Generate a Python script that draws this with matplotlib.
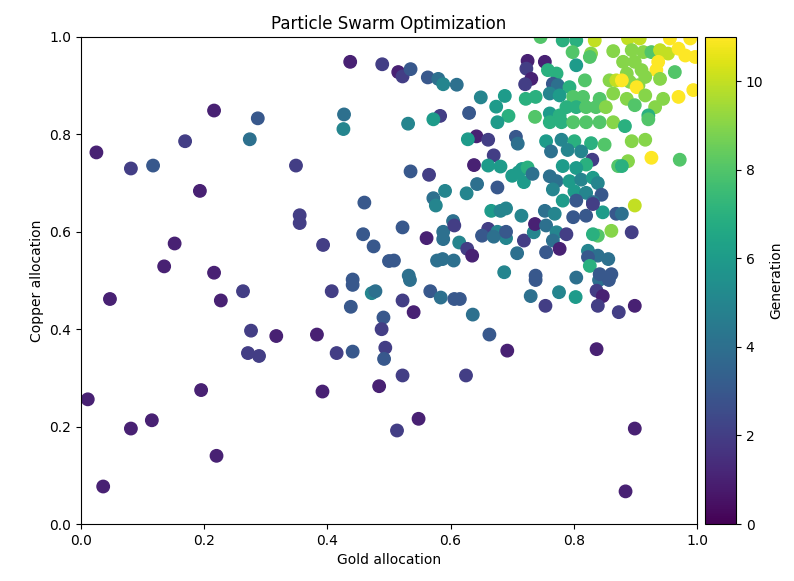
import numpy as np
import matplotlib
matplotlib.use("Agg")
import matplotlib.pyplot as plt

# positions of the particles (gold, copper, generation)
gold = [
    # left half, upper
    0.437, 0.489, 0.216, 0.287, 0.427, 0.426, 0.274, 0.169, 0.025, 0.081, 0.117, 0.349,
    0.193, 0.460, 0.355, 0.355, 0.458, 0.475, 0.393, 0.152, 0.135, 0.216, 0.500, 0.441,
    # left half, lower
    0.047, 0.227, 0.263, 0.407, 0.441, 0.472, 0.478, 0.438, 0.491, 0.488, 0.276, 0.317,
    0.383, 0.271, 0.289, 0.415, 0.441, 0.494, 0.492, 0.195, 0.392, 0.484, 0.011, 0.115,
    0.081, 0.220, 0.036,
    # right half, lower
    0.534, 0.738, 0.841, 0.857, 0.567, 0.584, 0.606, 0.615, 0.522, 0.540, 0.636, 0.730,
    0.776, 0.803, 0.754, 0.837, 0.847, 0.839, 0.873, 0.899, 0.663, 0.692, 0.837, 0.522,
    0.625, 0.548, 0.513, 0.899, 0.884,
    # middle, upper
    0.515, 0.522, 0.535, 0.563, 0.580, 0.588, 0.610, 0.649, 0.688, 0.674, 0.694, 0.676,
    0.630, 0.583, 0.572, 0.531, 0.642, 0.661, 0.628, 0.670, 0.706, 0.709, 0.725, 0.723,
    0.731, 0.721, 0.722, 0.738, 0.737, 0.746,
    # middle, centre
    0.535, 0.565, 0.638, 0.661, 0.681, 0.643, 0.626, 0.591, 0.572, 0.576, 0.676, 0.666,
    0.681, 0.690, 0.715, 0.522, 0.561, 0.588, 0.588, 0.604, 0.606, 0.614, 0.627, 0.635,
    0.661, 0.651, 0.676, 0.690, 0.670, 0.690, 0.708, 0.719, 0.735, 0.737, 0.508, 0.532,
    0.578, 0.587, 0.605, 0.687, 0.738, 0.710, 0.716, 0.725, 0.719, 0.700, 0.733,
    # dense cluster
    0.782, 0.804, 0.834, 0.798, 0.828, 0.864, 0.804, 0.826, 0.753, 0.758, 0.772, 0.818,
    0.858, 0.869, 0.766, 0.774, 0.793, 0.761, 0.777, 0.799, 0.815, 0.842, 0.864, 0.788,
    0.804, 0.820, 0.836, 0.852, 0.761, 0.777,
    0.761, 0.780, 0.799, 0.820, 0.842, 0.864, 0.755, 0.780, 0.801, 0.828, 0.850, 0.763,
    0.790, 0.812, 0.830, 0.820, 0.872, 0.782, 0.804, 0.761, 0.772, 0.793, 0.812, 0.831,
    0.839, 0.801, 0.820, 0.845, 0.766,
    0.782, 0.804, 0.831, 0.753, 0.769, 0.799, 0.820, 0.847, 0.869, 0.831, 0.861, 0.839,
    0.831, 0.755, 0.772, 0.788, 0.766, 0.777, 0.823, 0.839, 0.856, 0.823, 0.826, 0.755,
    0.842, 0.861, 0.804,
    # top right corner
    0.888, 0.907, 0.956, 0.989, 0.894, 0.913, 0.926, 0.940, 0.953, 0.970, 0.981, 0.997,
    0.937, 0.880, 0.899, 0.910, 0.934, 0.964, 0.886, 0.891, 0.878, 0.905, 0.916, 0.940,
    0.902, 0.994, 0.916, 0.886, 0.899, 0.932, 0.945, 0.970, 0.921,
    0.883, 0.921, 0.894, 0.916, 0.926, 0.888, 0.878, 0.972,
    0.899, 0.878, 0.894,
]
copper = [
    0.949, 0.944, 0.849, 0.833, 0.841, 0.811, 0.790, 0.786, 0.763, 0.730, 0.736, 0.736,
    0.684, 0.660, 0.634, 0.618, 0.595, 0.570, 0.573, 0.576, 0.529, 0.516, 0.540, 0.502,
    0.462, 0.459, 0.478, 0.478, 0.491, 0.474, 0.478, 0.446, 0.424, 0.400, 0.397, 0.386,
    0.389, 0.351, 0.345, 0.351, 0.354, 0.362, 0.339, 0.275, 0.272, 0.283, 0.256, 0.213,
    0.196, 0.140, 0.077,
    0.501, 0.501, 0.501, 0.501, 0.478, 0.465, 0.462, 0.462, 0.459, 0.435, 0.430, 0.468,
    0.476, 0.466, 0.448, 0.479, 0.468, 0.448, 0.435, 0.448, 0.389, 0.356, 0.359, 0.305,
    0.305, 0.216, 0.192, 0.196, 0.067,
    0.928, 0.919, 0.934, 0.917, 0.914, 0.903, 0.902, 0.876, 0.879, 0.857, 0.838, 0.825,
    0.844, 0.838, 0.831, 0.822, 0.796, 0.789, 0.790, 0.757, 0.795, 0.781, 0.951, 0.935,
    0.914, 0.903, 0.873, 0.877, 0.836, 1.000,
    0.724, 0.717, 0.737, 0.736, 0.734, 0.698, 0.679, 0.684, 0.669, 0.654, 0.691, 0.643,
    0.643, 0.648, 0.633, 0.609, 0.587, 0.600, 0.585, 0.622, 0.613, 0.578, 0.565, 0.551,
    0.606, 0.592, 0.600, 0.587, 0.590, 0.600, 0.556, 0.582, 0.599, 0.616, 0.541, 0.510,
    0.541, 0.544, 0.541, 0.517, 0.510, 0.722, 0.729, 0.732, 0.702, 0.715, 0.719,
    0.993, 0.993, 0.993, 0.969, 0.966, 0.971, 0.942, 0.959, 0.949, 0.932, 0.925, 0.911,
    0.911, 0.911, 0.904, 0.901, 0.897, 0.884, 0.880, 0.877, 0.877, 0.873, 0.884, 0.856,
    0.856, 0.856, 0.856, 0.856, 0.843, 0.839,
    0.825, 0.825, 0.825, 0.825, 0.825, 0.825, 0.786, 0.789, 0.786, 0.782, 0.779, 0.765,
    0.768, 0.765, 0.748, 0.738, 0.735, 0.735, 0.731, 0.714, 0.704, 0.704, 0.707, 0.711,
    0.700, 0.683, 0.680, 0.676, 0.687,
    0.664, 0.664, 0.661, 0.643, 0.637, 0.630, 0.633, 0.640, 0.637, 0.657, 0.602, 0.592,
    0.595, 0.613, 0.599, 0.595, 0.582, 0.565, 0.561, 0.551, 0.544, 0.548, 0.530, 0.558,
    0.513, 0.513, 0.506,
    0.997, 0.997, 0.997, 0.997, 0.973, 0.969, 0.969, 0.973, 0.966, 0.976, 0.962, 0.959,
    0.949, 0.949, 0.949, 0.932, 0.932, 0.928, 0.925, 0.908, 0.911, 0.901, 0.918, 0.914,
    0.897, 0.891, 0.880, 0.873, 0.860, 0.856, 0.873, 0.877, 0.839,
    0.817, 0.831, 0.786, 0.789, 0.752, 0.745, 0.735, 0.748,
    0.654, 0.637, 0.599,
]
generation = [
    1, 2, 1, 3, 4, 5, 4, 2, 1, 2, 3, 2,
    1, 3, 2, 2, 3, 3, 2, 1, 1, 1, 3, 3,
    1, 1, 2, 2, 3, 5, 4, 3, 3, 2, 2, 1,
    1, 2, 2, 2, 3, 2, 3, 1, 1, 1, 1, 1,
    1, 1, 1,
    4, 3, 4, 3, 3, 4, 3, 3, 2, 1, 4, 4,
    5, 6, 2, 2, 1, 2, 2, 1, 3, 1, 1, 2,
    2, 1, 2, 1, 1,
    1, 2, 3, 3, 4, 5, 4, 5, 6, 6, 7, 6,
    3, 2, 6, 5, 1, 2, 6, 2, 3, 4, 1, 2,
    1, 2, 7, 7, 8, 8,
    3, 2, 1, 6, 6, 4, 5, 5, 4, 5, 3, 6,
    5, 5, 5, 3, 1, 4, 4, 4, 2, 5, 2, 1,
    2, 3, 5, 5, 4, 3, 4, 2, 5, 1, 3, 4,
    4, 4, 4, 5, 3, 6, 6, 7, 6, 6, 4,
    7, 7, 10, 8, 9, 9, 6, 8, 1, 7, 7, 8,
    9, 10, 3, 4, 7, 5, 6, 8, 8, 8, 9, 7,
    7, 8, 8, 9, 6, 7,
    7, 7, 8, 8, 8, 9, 6, 5, 7, 7, 8, 4,
    5, 5, 2, 7, 8, 6, 6, 4, 4, 6, 5, 6,
    5, 6, 5, 3, 5,
    6, 3, 4, 4, 5, 3, 3, 6, 3, 2, 9, 8,
    7, 4, 5, 2, 4, 1, 5, 4, 4, 3, 7, 3,
    3, 3, 4,
    10, 10, 11, 11, 9, 9, 8, 10, 10, 11, 11, 11,
    11, 9, 9, 9, 11, 8, 9, 9, 11, 9, 9, 9,
    11, 11, 9, 9, 8, 9, 9, 11, 7,
    7, 8, 9, 9, 11, 9, 7, 8,
    10, 4, 2,
]

fig = plt.figure(figsize=(7.94, 5.81), dpi=100)
ax = fig.add_axes([81/794, 57/581, 616/794, 487/581])
cax = fig.add_axes([705/794, 57/581, 31/794, 487/581])

sc = ax.scatter(gold, copper, c=generation, cmap='viridis', vmin=0, vmax=11, s=80)
ax.set_xlim(0, 1)
ax.set_ylim(0, 1)
ax.set_xlabel("Gold allocation")
ax.set_ylabel("Copper allocation")
ax.set_title("Particle Swarm Optimization")

cb = fig.colorbar(sc, cax=cax)
cb.set_label("Generation")

fig.savefig("out.png", dpi=100)
